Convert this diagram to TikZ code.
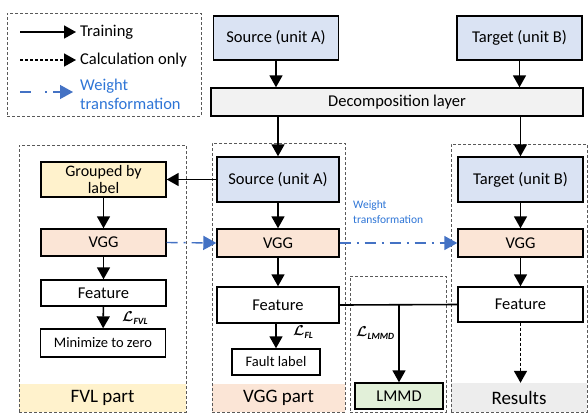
\documentclass[tikz,border=0pt]{standalone}
\usepackage{amsmath,amssymb,bm}
\usepackage{fontspec}
\setmainfont{Carlito}
\usetikzlibrary{arrows.meta}
\definecolor{cblue}{HTML}{DAE3F3}
\definecolor{cpeach}{HTML}{FBE5D6}
\definecolor{cyellow}{HTML}{FFF2CC}
\definecolor{cgreen}{HTML}{E2F0D9}
\definecolor{cgray}{HTML}{F2F2F2}
\definecolor{cband}{HTML}{EDEDED}
\definecolor{warrow}{HTML}{4472C4}
\definecolor{wtext}{HTML}{2E75D6}
\newcommand{\lossL}[1]{$\bm{\mathcal{L}}$\raisebox{-3pt}{\fontsize{9.5}{10}\selectfont\bfseries\itshape #1}}
\tikzset{
  box/.style={draw=black, line width=1.4pt, inner sep=1pt, align=center, font=\fontsize{16.5}{17}\selectfont},
  smallbox/.style={box, font=\fontsize{14.5}{15}\selectfont},
  group/.style={draw=black!65, dash pattern=on 3pt off 2pt, line width=0.7pt, inner sep=0pt},
  band/.style={inner sep=0pt, font=\fontsize{19}{20}\selectfont},
  arr/.style={line width=1.6pt, -{Triangle[width=13pt,length=12pt]}},
  darr/.style={arr, dash pattern=on 3pt off 2pt},
  warr/.style={draw=warrow, line width=1.4pt, dash pattern=on 11pt off 6pt on 2pt off 6pt, -{Triangle[width=14pt,length=13pt]}, warrow},
  plain/.style={line width=1.6pt},
  loss/.style={font=\fontsize{14}{15}\selectfont, inner sep=1pt},
  legtext/.style={anchor=west, inner sep=0pt, font=\fontsize{16.5}{19}\selectfont},
}
\begin{document}
\begin{tikzpicture}[x=1pt,y=-1pt]
\useasboundingbox (0,0) rectangle (588,413);
% legend
\node[group, minimum width=194pt, minimum height=103pt] (legend) at (104,64.5) {};
\coordinate (l1a) at (20,32); \coordinate (l1b) at (76,32);
\coordinate (l2a) at (20,60); \coordinate (l2b) at (76,60);
\coordinate (l3a) at (20,92); \coordinate (l3b) at (73,92);
\draw[arr] (l1a) -- (l1b);
\draw[darr] (l2a) -- (l2b);
\draw[warr, dash pattern=on 11pt off 14pt on 2pt off 6pt] (l3a) -- (l3b);
\node[legtext] (t1) at (80,32) {Training};
\node[legtext] (t2) at (80,60) {Calculation only};
\node[legtext, align=left, text=wtext] (t3) at (80,94) {Weight\\transformation};
% top
\node[box, fill=cblue, minimum width=125pt, minimum height=44pt] (srcTop) at (276,38) {Source (unit A)};
\node[box, fill=cblue, minimum width=125pt, minimum height=44pt] (tgtTop) at (519.5,38) {Target (unit B)};
\node[box, fill=cgray, minimum width=372pt, minimum height=28pt] (decomp) at (397,102) {Decomposition layer};
% FVL part
\node[band, fill=cyellow, minimum width=167pt, minimum height=28pt] (fvlband) at (102.5,398) {FVL part};
\node[group, minimum width=167pt, minimum height=267pt] (fvlbox) at (102.5,278.5) {};
\node[box, fill=cyellow, minimum width=125pt, minimum height=35pt, font=\fontsize{16}{17}\selectfont] (grouped) at (103.5,179.5) {Grouped by\\label};
\node[box, fill=cpeach, minimum width=125pt, minimum height=27pt] (vggL) at (103.5,242.5) {VGG};
\node[box, minimum width=125pt, minimum height=26pt] (featL) at (103.5,293) {Feature};
\node[smallbox, minimum width=125pt, minimum height=28pt] (minL) at (103,343) {Minimize to zero};
% VGG part
\node[band, fill=cpeach, minimum width=133pt, minimum height=28pt] (vggband) at (278.5,398) {VGG part};
\node[group, minimum width=133pt, minimum height=269pt] (vggbox) at (278.5,277.5) {};
\node[box, fill=cblue, minimum width=122pt, minimum height=45pt] (srcMid) at (278,179.5) {Source (unit A)};
\node[box, fill=cpeach, minimum width=122pt, minimum height=28pt] (vggM) at (278,243) {VGG};
\node[box, minimum width=122pt, minimum height=36pt] (featM) at (278,305) {Feature};
\node[smallbox, minimum width=88pt, minimum height=26pt] (fault) at (276,362) {Fault label};
% LMMD
\node[group, minimum width=96pt, minimum height=136pt] (lmmdbox) at (398,344) {};
\node[box, fill=cgreen, minimum width=88pt, minimum height=26pt] (lmmd) at (399,396) {LMMD};
% Target part
\node[band, fill=cband, minimum width=136pt, minimum height=29pt] (resband) at (519,397.5) {Results};
\node[group, minimum width=136pt, minimum height=268pt] (tgtbox) at (519,278) {};
\node[box, fill=cblue, minimum width=125pt, minimum height=45pt] (tgtMid) at (520.5,179.5) {Target (unit B)};
\node[box, fill=cpeach, minimum width=125pt, minimum height=28pt] (vggR) at (520.5,243) {VGG};
\node[box, minimum width=125pt, minimum height=35pt] (featR) at (520.5,304.5) {Feature};
% connectors
\draw[arr] (srcTop.south) -- (srcTop.south |- decomp.north);
\draw[arr] (tgtTop.south) -- (tgtTop.south |- decomp.north);
\draw[arr] (srcMid.north |- decomp.south) -- (srcMid.north);
\draw[arr] (tgtMid.north |- decomp.south) -- (tgtMid.north);
\draw[arr] (srcMid.west) -- (grouped.east);
\draw[arr] (grouped) -- (vggL);
\draw[arr] (vggL) -- (featL);
\draw[arr] (featL) -- (minL);
\draw[arr] (srcMid) -- (vggM);
\draw[arr] (vggM) -- (featM);
\draw[arr] (featM.south -| fault.north) -- (fault.north);
\draw[arr] (tgtMid) -- (vggR);
\draw[arr] (vggR) -- (featR);
\draw[darr] (featR.south) -- (resband.north -| featR.south);
\draw[plain] (featM.east) -- (featR.west);
\coordinate (junc) at (lmmd.north |- featR.west);
\draw[arr] (junc) -- (lmmd.north);
\draw[warr] (vggL.east) -- (vggM.west);
\draw[warr] (vggM.east) -- (vggR.west);
% labels
\node[loss, anchor=west] (lfvl) at (121,318) {\lossL{FVL}};
\node[loss, anchor=west] (lfl) at (292,332) {\lossL{FL}};
\node[loss, anchor=west] (llmmd) at (355,333) {\lossL{LMMD}};
\node[anchor=west, align=left, text=wtext, inner sep=0pt, font=\fontsize{11.5}{15}\selectfont] (wlabel) at (353,212) {Weight\\transformation};
\end{tikzpicture}
\end{document}
